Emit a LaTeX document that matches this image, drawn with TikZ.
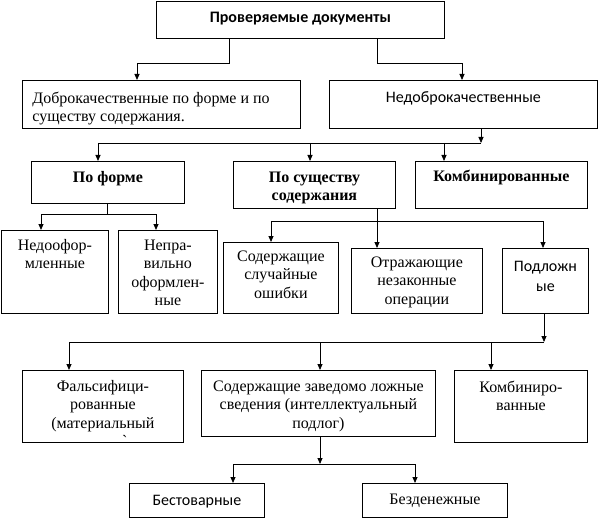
\documentclass[tikz,border=0pt]{standalone}
\usepackage{fontspec}
\setmainfont{Liberation Serif}
\newfontfamily\calib{Carlito}
\usetikzlibrary{arrows.meta}
% box text: [align]{width}{height}{first baseline}{text}
\newcommand{\cellbox}[5][\centering]{\parbox[c][#3][t]{#2}{#1\rule{0pt}{#4}#5\par}}
\tikzset{
    cell/.style={draw, inner sep=0pt, anchor=north west, font=\fontsize{16}{18.5}\selectfont},
    sanscell/.style={cell, font=\calib\fontsize{16}{20}\selectfont},
}
\begin{document}
\begin{tikzpicture}[x=1pt,y=-1pt,line width=0.8pt,>={Triangle[length=6pt,width=5pt]}]
        \useasboundingbox (0,0) rectangle (598,519);
        % boxes
        \node[sanscell] (top) at (156,1) {\cellbox{288pt}{37pt}{21pt}{\bfseries Проверяемые документы}};
        \node[cell] (dobro) at (22,80) {\cellbox[\raggedright\leftskip=10pt]{278pt}{48pt}{23pt}{Доброкачественные по форме и по\\существу содержания.}};
        \node[sanscell] (nedobro) at (329,80) {\cellbox{268pt}{48pt}{22pt}{Недоброкачественные}};
        \node[cell] (poforme) at (31,161) {\cellbox{153pt}{42pt}{21pt}{\bfseries По форме}};
        \node[cell] (posush) at (233,161) {\cellbox{162pt}{47pt}{21pt}{\bfseries По существу\\содержания}};
        \node[cell] (kombi1) at (415,161) {\cellbox{172pt}{47pt}{20pt}{\bfseries Комбинированные}};
        \node[cell] (nedoof) at (1,230) {\cellbox{107pt}{83pt}{20pt}{Недоофор-\\мленные}};
        \node[cell] (nepr) at (118,230) {\cellbox{99pt}{83pt}{20pt}{Непра-\\вильно\\оформлен-\\ные}};
        \node[cell] (sodsl) at (223,242) {\cellbox{115pt}{71pt}{19pt}{Содержащие\\случайные\\ошибки}};
        \node[cell] (otr) at (351,248) {\cellbox{131pt}{65pt}{19pt}{Отражающие\\незаконные\\операции}};
        \node[sanscell] (podl) at (502,248) {\cellbox{86pt}{65pt}{23pt}{Подложн\\ые}};
        \node[cell] (fals) at (22,370) {\cellbox{161pt}{72pt}{21pt}{Фальсифици-\\рованные\\(материальный\\\hspace*{44pt}\textasciigrave}};
        \node[cell] (sodzl) at (201,370) {\cellbox{234pt}{66pt}{21pt}{Содержащие заведомо ложные\\сведения (интеллектуальный\\подлог)}};
        \node[cell] (kombi2) at (454,370) {\cellbox{133pt}{72pt}{22pt}{Комбиниро-\\ванные}};
        \node[sanscell] (best) at (129,483) {\cellbox{135pt}{34pt}{22pt}{Бестоварные}};
        \node[cell] (bezd) at (362,483) {\cellbox{145pt}{34pt}{21pt}{Безденежные}};

        % lines
        \coordinate (a1) at (229,63); \coordinate (a2) at (137,63);
        \draw[->] (top.south -| a1) -- (a1) -- (a2) -- (dobro.north -| a2);
        \coordinate (a3) at (377,63); \coordinate (a4) at (462,63);
        \draw[->] (top.south -| a3) -- (a3) -- (a4) -- (nedobro.north -| a4);

        \coordinate (b1) at (481,143); \coordinate (b2) at (98,143);
        \coordinate (b3) at (310,143); \coordinate (b4) at (444,143);
        \draw[->] (nedobro.south -| b1) -- (b1);
        \draw (b1) -- (b2);
        \draw[->] (b2) -- (poforme.north -| b2);
        \draw[->] (b3) -- (posush.north -| b3);
        \draw[->] (b4) -- (kombi1.north -| b4);

        \coordinate (c1) at (107,214); \coordinate (c2) at (41,214); \coordinate (c3) at (156,214);
        \draw (poforme.south -| c1) -- (c1);
        \draw (c2) -- (c3);
        \draw[->] (c2) -- (nedoof.north -| c2);
        \draw[->] (c3) -- (nepr.north -| c3);

        \coordinate (d1) at (377,221); \coordinate (d2) at (271,221); \coordinate (d3) at (543,221);
        \draw[->] (posush.south -| d1) -- (otr.north -| d1);
        \draw (d2) -- (d3);
        \draw[->] (d2) -- (sodsl.north -| d2);
        \draw[->] (d3) -- (podl.north -| d3);

        \coordinate (e1) at (544,342); \coordinate (e2) at (69,342);
        \coordinate (e3) at (320,342); \coordinate (e4) at (491,342);
        \draw[->] (podl.south -| e1) -- (e1);
        \draw (e1) -- (e2);
        \draw[->] (e2) -- (fals.north -| e2);
        \draw[->] (e3) -- (sodzl.north -| e3);
        \draw[->] (e4) -- (kombi2.north -| e4);

        \coordinate (f1) at (320,464); \coordinate (f2) at (233,464); \coordinate (f3) at (415,464);
        \draw[->] (sodzl.south -| f1) -- (f1);
        \draw (f2) -- (f3);
        \draw[->] (f2) -- (best.north -| f2);
        \draw[->] (f3) -- (bezd.north -| f3);
    \end{tikzpicture}
\end{document}
